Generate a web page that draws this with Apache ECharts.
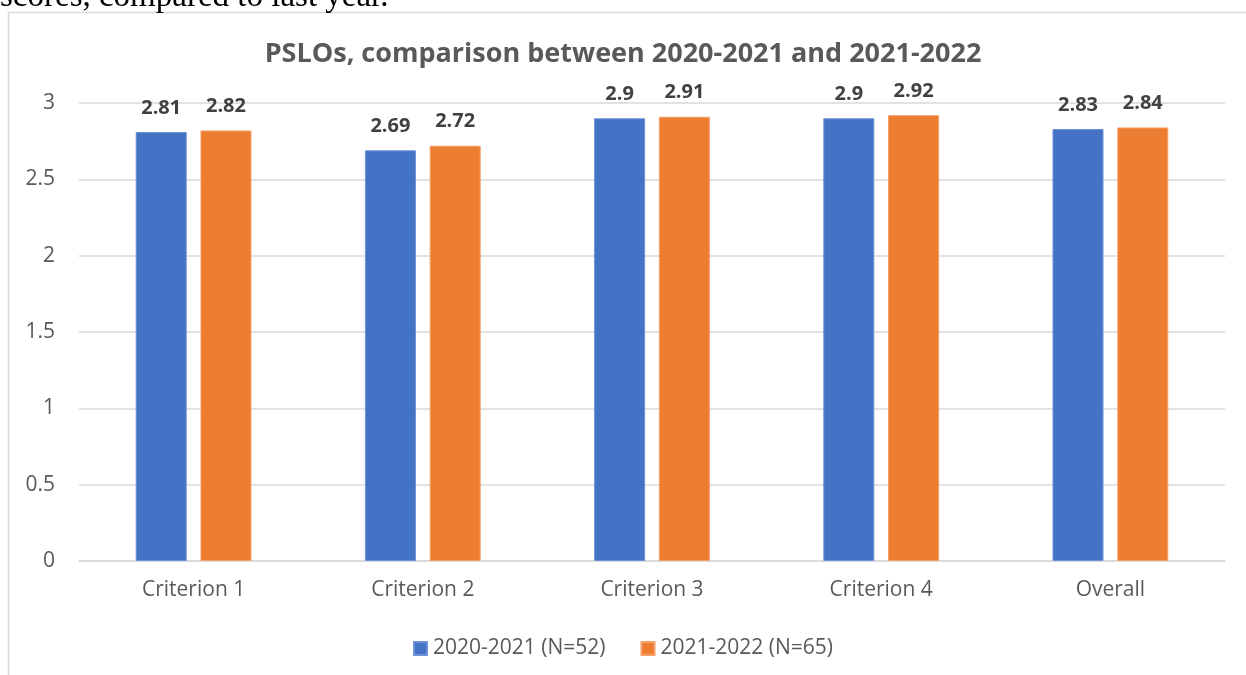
<!DOCTYPE html>
<html>
<head>
<meta charset="utf-8">
<script src="https://cdn.jsdelivr.net/npm/echarts@6/dist/echarts.min.js"></script>
<style>
  html, body { margin: 0; padding: 0; background: #fff; }
  #chart { width: 1246px; height: 675px; }
</style>
</head>
<body>
<div id="chart"></div>
<script>
// data
var categories = ['Criterion 1', 'Criterion 2', 'Criterion 3', 'Criterion 4', 'Overall'];
var year2021 = [2.81, 2.69, 2.9, 2.9, 2.83];
var year2022 = [2.82, 2.72, 2.91, 2.92, 2.84];
var seriesNames = ['2020-2021 (N=52)', '2021-2022 (N=65)'];
var yTicks = [0, 0.5, 1, 1.5, 2, 2.5, 3];

var fontName = "'Open Sans', 'Noto Sans', sans-serif";
var myChart = echarts.init(document.getElementById('chart'), null, { renderer: 'canvas' });

var labelStyle = {
    show: true,
    position: 'top',
    distance: 14,
    fontFamily: fontName,
    fontWeight: 'bold',
    fontSize: 20,
    color: '#404040'
};

var option = {
    animation: false,
    textStyle: { fontFamily: fontName },
    title: {
        text: 'PSLOs, comparison between 2020-2021 and 2021-2022',
        left: 'center',
        top: 36,
        textStyle: { fontFamily: fontName, fontSize: 27, fontWeight: 'bold', color: '#595959' }
    },
    graphic: [
        {
            // chart area border
            type: 'rect',
            shape: { x: 8.5, y: 12.5, width: 1300, height: 800 },
            style: { fill: 'none', stroke: '#d9d9d9', lineWidth: 1.5 },
            silent: true
        },
        {
            // tail of the document sentence above the chart
            type: 'text',
            left: 0,
            top: -19,
            style: {
                text: 'scores, compared to last year.',
                font: '33px "Liberation Serif", serif',
                fill: '#000'
            },
            silent: true
        }
    ],
    legend: {
        data: seriesNames,
        bottom: 11,
        left: 'center',
        itemWidth: 13,
        itemHeight: 13,
        itemGap: 35,
        icon: 'rect',
        textStyle: { fontFamily: fontName, fontSize: 21, color: '#595959', padding: [0, 0, 0, 1] }
    },
    grid: { left: 79, right: 21, top: 103, bottom: 114 },
    xAxis: {
        type: 'category',
        data: categories,
        axisTick: { show: false },
        axisLine: { lineStyle: { color: '#d9d9d9', width: 1.5 } },
        axisLabel: { margin: 19, fontFamily: fontName, fontSize: 21, color: '#595959' }
    },
    yAxis: {
        type: 'value',
        min: yTicks[0],
        max: yTicks[yTicks.length - 1],
        interval: 0.5,
        axisLine: { show: false },
        axisTick: { show: false },
        splitLine: { lineStyle: { color: '#d9d9d9', width: 1.5 } },
        axisLabel: { margin: 24, fontFamily: fontName, fontSize: 21, color: '#595959' }
    },
    series: [
        {
            name: seriesNames[0],
            type: 'bar',
            data: year2021,
            barWidth: 51,
            barGap: '27%',
            itemStyle: { color: '#4472C4', borderColor: '#6d93d6', borderWidth: 1 },
            label: labelStyle
        },
        {
            name: seriesNames[1],
            type: 'bar',
            data: year2022,
            barWidth: 51,
            itemStyle: { color: '#ED7D31', borderColor: '#f3a06a', borderWidth: 1 },
            label: labelStyle
        }
    ]
};

myChart.setOption(option);
</script>
</body>
</html>
